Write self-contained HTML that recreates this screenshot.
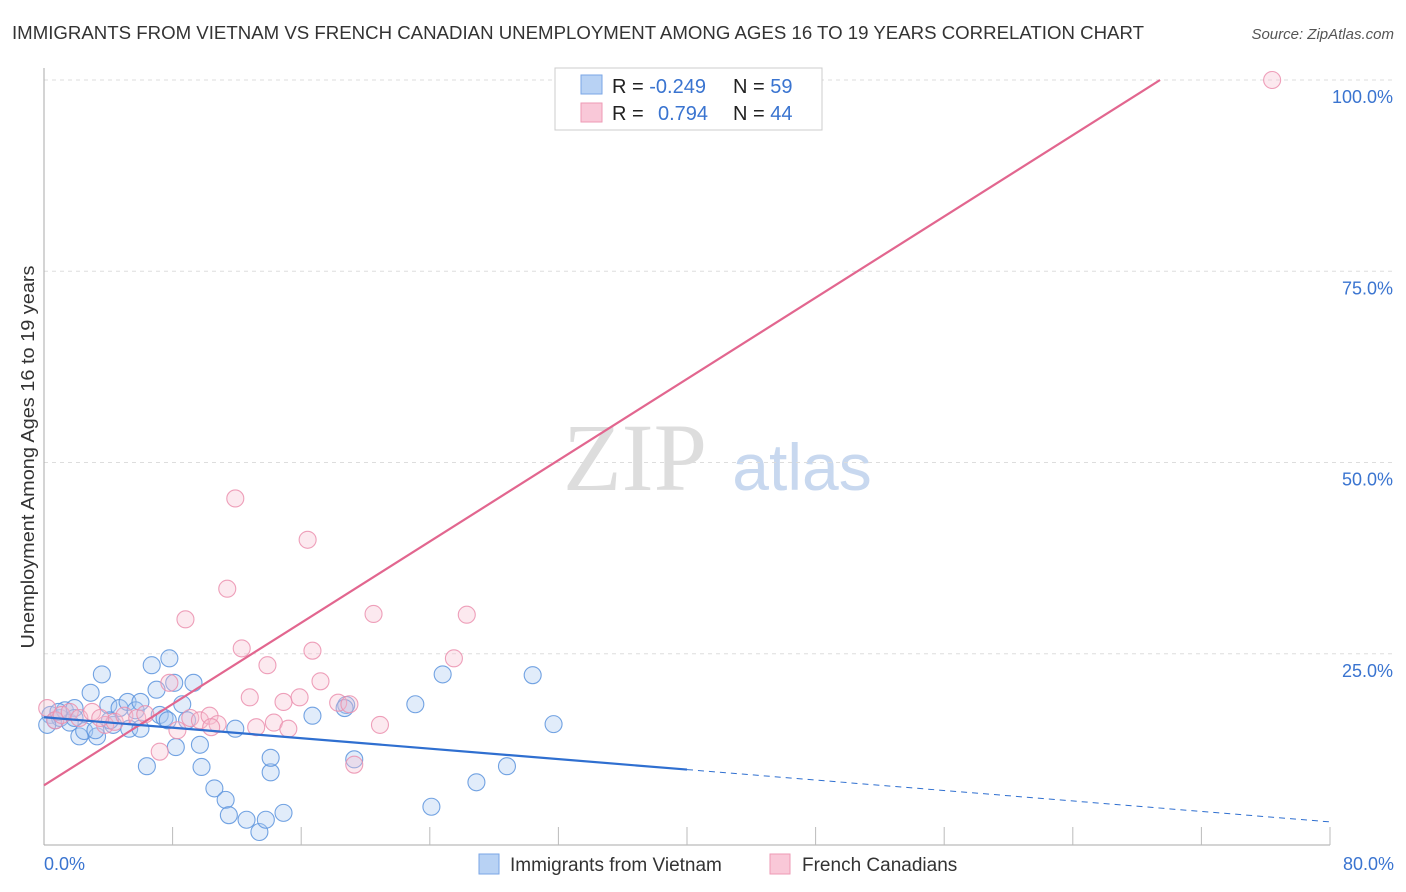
<!DOCTYPE html>
<html><head><meta charset="utf-8"><style>
body{margin:0;background:#fff;font-family:"Liberation Sans",sans-serif;}
svg{display:block}
</style></head><body>
<svg id="c" width="1406" height="892">
<text x="12" y="39" font-size="18" textLength="1132" lengthAdjust="spacingAndGlyphs" fill="#333">IMMIGRANTS FROM VIETNAM VS FRENCH CANADIAN UNEMPLOYMENT AMONG AGES 16 TO 19 YEARS CORRELATION CHART</text>
<text x="1394" y="39" font-size="15" fill="#555" font-style="italic" text-anchor="end">Source: ZipAtlas.com</text>
<text x="635" y="490" font-size="96" fill="#ddd" font-family="Liberation Serif,serif" text-anchor="middle">ZIP</text>
<text x="802" y="490" font-size="66" fill="#c8d8ef" text-anchor="middle">atlas</text>
<text transform="translate(34,457) rotate(-90)" font-size="18" textLength="383" lengthAdjust="spacingAndGlyphs" fill="#333" text-anchor="middle">Unemployment Among Ages 16 to 19 years</text>
<g id="grid"></g><g id="marks"></g>
<g>
<rect x="555" y="68" width="267" height="62" fill="#fff" stroke="#ccc"/>
<rect x="581" y="75" width="21" height="19" fill="#b8d2f4" stroke="#7aa6e6"/>
<rect x="581" y="103" width="21" height="19" fill="#f9c8d8" stroke="#ee9ab5"/>
<text x="612" y="93" font-size="20" fill="#222">R = <tspan fill="#3a74d0">-0.249</tspan></text>
<text x="733" y="93" font-size="20" fill="#222">N = <tspan fill="#3a74d0">59</tspan></text>
<text x="612" y="120" font-size="20" fill="#222">R = <tspan fill="#3a74d0" x="658">0.794</tspan></text>
<text x="733" y="120" font-size="20" fill="#222">N = <tspan fill="#3a74d0">44</tspan></text>
</g>
<g>
<rect x="479" y="854" width="20" height="20" fill="#b8d2f4" stroke="#7aa6e6"/>
<text x="510" y="871" font-size="19" fill="#333">Immigrants from Vietnam</text>
<rect x="770" y="854" width="20" height="20" fill="#f9c8d8" stroke="#ee9ab5"/>
<text x="802" y="871" font-size="19" fill="#333">French Canadians</text>
</g>
<text x="44" y="870" font-size="18" fill="#3a74d0">0.0%</text>
<text x="1394" y="870" font-size="18" fill="#3a74d0" text-anchor="end">80.0%</text>
</svg>
<script>
const blueX=[0.4,0.7,1,1.3,1.6,1.9,2.2,2.5,2.9,3.3,3.6,4,4.3,4.7,5.2,5.7,6,6.4,6.7,7,7.2,7.5,7.8,8.1,8.2,8.6,9.3,9.7,9.8,10.6,11.3,11.5,11.9,12.6,13.4,13.8,14.1,14.1,14.9,16.7,18.8,19.3,23.1,24.1,24.8,26.9,28.8,30.4,31.7,0.2,0.9,3.2,5.3,7.7,4.1,1.9,8.9,6,18.7];
const blueY=[17,16.3,16.6,17.6,16,17.9,14.2,14.9,19.9,14.2,22.3,18.3,15.7,17.9,18.7,17.6,18.7,10.3,23.5,20.3,17,16.6,24.4,21.2,12.8,18.4,21.2,13.1,10.2,7.4,5.9,3.9,15.2,3.3,1.7,3.3,9.5,11.4,4.2,16.9,18.3,11.2,18.4,5,22.3,8.2,10.3,22.2,15.8,15.7,17.4,15,15.2,16.3,16.3,16.6,16.3,15.2,17.9];
const pinkX=[0.2,0.7,1.1,1.6,2.2,2.99,3.8,4.4,5,5.8,6.3,7.2,7.8,8.3,8.8,9.1,9.7,10.3,10.8,11.4,11.9,12.3,12.8,13.2,13.9,14.3,14.9,15.2,15.9,16.4,16.7,17.2,18.3,19,19.3,20.5,20.9,26.3,25.5,35.2,38.5,76.4,10.4,3.5];
const pinkY=[17.9,16.3,17,17.4,16.6,17.4,15.7,16.1,16.9,16.6,17.1,12.2,21.2,15,29.5,16.6,16.3,16.9,15.8,33.5,45.3,25.7,19.3,15.4,23.5,16,18.7,15.2,19.3,39.9,25.4,21.4,18.6,18.4,10.5,30.2,15.7,30.1,24.4,100,100,100,15.4,16.6];
const yTicks=[25,50,75,100];
const pinkTrend=[7.8,1.328];
const blueTrend=[16.7,-0.171];
const NS="http://www.w3.org/2000/svg";
const X=v=>44+v/80*1286, Y=v=>845-v/100*765;
function mk(p,t,a){const e=document.createElementNS(NS,t);for(const k in a)e.setAttribute(k,a[k]);p.appendChild(e);return e;}
const g=document.getElementById('grid'),m=document.getElementById('marks');
yTicks.forEach(t=>{
 const l=mk(g,'line',{x1:44,x2:1394,y1:Y(t),y2:Y(t),stroke:'#ddd','stroke-dasharray':'4,4'});
 
 
 const tx=mk(g,'text',{x:1393,y:Y(t)+23,'font-size':18,fill:'#3a74d0','text-anchor':'end'});tx.textContent=t.toFixed(1)+'%';
 
 
});
const ax=mk(g,'line',{x1:44,x2:44,y1:68,y2:845,stroke:'#aaa'});


const bx=mk(g,'line',{x1:44,x2:1330,y1:845,y2:845,stroke:'#aaa'});


for(let i=1;i<=10;i++){const t=mk(g,'line',{x1:X(i*8),x2:X(i*8),y1:827,y2:845,stroke:'#bbb'});
 
 }
function dots(xs,ys,f,s,n){xs.forEach((x,i)=>{const c=mk(m,'circle',{cx:X(x),cy:Y(ys[i]),r:8.5,fill:f,'fill-opacity':0.35,stroke:s,'stroke-width':1.1,'stroke-opacity':0.85});
 
 });}
dots(blueX,blueY,'#a9c8f0','#5b93dd','point-vietnam');
dots(pinkX,pinkY,'#f7bfd0','#eb8fae','point-french');
const xEnd=(100-pinkTrend[0])/pinkTrend[1];
const pl=mk(m,'line',{x1:X(0),y1:Y(pinkTrend[0]),x2:X(xEnd),y2:Y(100),stroke:'#e2668f','stroke-width':2.2});


const bl=mk(m,'line',{x1:X(0),y1:Y(blueTrend[0]),x2:X(40),y2:Y(blueTrend[0]+blueTrend[1]*40),stroke:'#2f6fd0','stroke-width':2.2});


const bd=mk(m,'line',{x1:X(40),y1:Y(blueTrend[0]+blueTrend[1]*40),x2:X(80),y2:Y(blueTrend[0]+blueTrend[1]*80),stroke:'#2f6fd0','stroke-width':1,'stroke-dasharray':'6,5'});


</script>
</body></html>
